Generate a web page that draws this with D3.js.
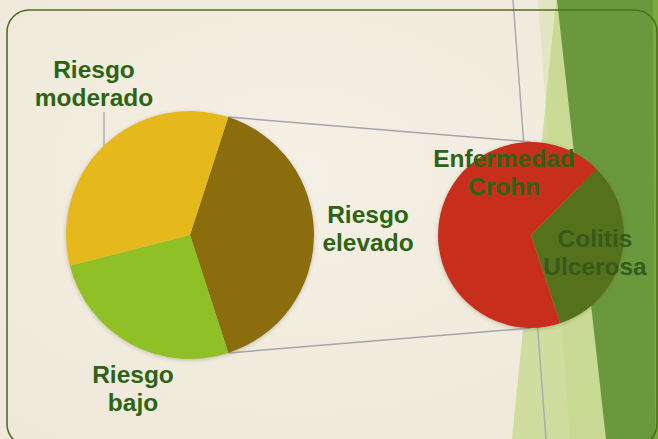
<!DOCTYPE html>
<html><head><meta charset="utf-8">
<script src="https://cdn.jsdelivr.net/npm/d3@7"></script>
<style>html,body{margin:0;padding:0;background:#F2EDE1;}svg{display:block;}</style>
</head><body><svg id="c" width="658" height="439"></svg>
<script>
// Primary pie data
const primaryCategories = ["Riesgo elevado", "Riesgo bajo", "Riesgo moderado"];
const primaryValues = [40, 26, 34];
// Secondary pie (breakdown of "Riesgo elevado")
const secondaryCategories = ["Colitis Ulcerosa", "Enfermedad Crohn"];
const secondaryValues = [13, 27];
const labelLines = {
  "Riesgo elevado": ["Riesgo", "elevado"],
  "Riesgo bajo": ["Riesgo", "bajo"],
  "Riesgo moderado": ["Riesgo", "moderado"],
  "Colitis Ulcerosa": ["Colitis", "Ulcerosa"],
  "Enfermedad Crohn": ["Enfermedad", "Crohn"]
};

const W = 658, H = 439;
const svg = d3.select("#c");
const defs = svg.append("defs");
const sh = defs.append("filter").attr("id","sh").attr("x","-20%").attr("y","-20%").attr("width","140%").attr("height","140%");
sh.append("feDropShadow").attr("dx",0).attr("dy",1).attr("stdDeviation",2.2).attr("flood-color","#6b5a3a").attr("flood-opacity",0.35);
const bgGrad = defs.append("radialGradient").attr("id","bgg").attr("cx","45%").attr("cy","40%").attr("r","75%");
bgGrad.append("stop").attr("offset","0%").attr("stop-color","#F5F0E5");
bgGrad.append("stop").attr("offset","100%").attr("stop-color","#EFE8D9");

// background
svg.append("rect").attr("width",W).attr("height",H).attr("fill","url(#bgg)");

// decorative theme shapes on right
const deco = svg.append("g");
deco.append("path").attr("d","M538,0 L658,0 L658,439 L570,439 Z").attr("fill","rgb(180,210,110)").attr("opacity",0.22);
deco.append("path").attr("d","M556,0 L658,0 L658,439 L512,439 Z").attr("fill","rgb(180,210,110)").attr("opacity",0.55);
deco.append("path").attr("d","M557,0 L658,0 L658,439 L606,439 Z").attr("fill","#6A983D");
deco.append("path").attr("d","M653,0 L658,0 L658,439 L655,439 Z").attr("fill","#7FAE40").attr("opacity",0.8);
deco.append("line").attr("x1",513).attr("y1",0).attr("x2",546).attr("y2",439).attr("stroke","#A9AAB2").attr("stroke-width",1.5);

// geometry
const c1 = {x:190, y:235, r:124};
const c2 = {x:531, y:235, r:93};
const colors1 = d3.scaleOrdinal().domain(primaryCategories).range(["#8B6D0F","#8FC126","#E5B81F"]);
const colors2 = d3.scaleOrdinal().domain(secondaryCategories).range(["#56711A","#C72E1A"]);

const total1 = d3.sum(primaryValues);
const otherSpan = primaryValues[0] / total1 * 2 * Math.PI;
const pie1 = d3.pie().sort(null).value(d => d.v).startAngle(Math.PI/2 - otherSpan/2).endAngle(Math.PI/2 - otherSpan/2 + 2*Math.PI);
const rot2 = 44.7 * Math.PI / 180;
const pie2 = d3.pie().sort(null).value(d => d.v).startAngle(rot2).endAngle(rot2 + 2*Math.PI);
const arc1 = d3.arc().innerRadius(0).outerRadius(c1.r);
const arc2 = d3.arc().innerRadius(0).outerRadius(c2.r);

const d1 = pie1(primaryCategories.map((k,i)=>({k, v:primaryValues[i]})));
const d2 = pie2(secondaryCategories.map((k,i)=>({k, v:secondaryValues[i]})));

// connector lines
const other = d1[0];
const pt = (c, r, a) => [c.x + r*Math.sin(a), c.y - r*Math.cos(a)];
const pTop = pt(c1, c1.r, other.startAngle), pBot = pt(c1, c1.r, other.endAngle);
svg.append("line").attr("x1",pTop[0]).attr("y1",pTop[1]).attr("x2",c2.x).attr("y2",c2.y - c2.r).attr("stroke","#A3A4AC").attr("stroke-width",1.5);
svg.append("line").attr("x1",pBot[0]).attr("y1",pBot[1]).attr("x2",c2.x).attr("y2",c2.y + c2.r).attr("stroke","#A3A4AC").attr("stroke-width",1.5);

// leader for moderado
const lx = 104;
svg.append("line").attr("x1",lx).attr("y1",112).attr("x2",lx).attr("y2",c1.y - Math.sqrt(c1.r*c1.r - (c1.x-lx)*(c1.x-lx)))
  .attr("stroke","#A3A4AC").attr("stroke-width",1.3);

// pies
const g1 = svg.append("g").attr("transform",`translate(${c1.x},${c1.y})`).attr("filter","url(#sh)");
g1.selectAll("path").data(d1).join("path").attr("d",arc1).attr("fill",d=>colors1(d.data.k));
const g2 = svg.append("g").attr("transform",`translate(${c2.x},${c2.y})`).attr("filter","url(#sh)");
g2.selectAll("path").data(d2).join("path").attr("d",arc2).attr("fill",d=>colors2(d.data.k));

// labels (positions relative to pie centres)
const labelPos = {
  "Riesgo elevado": [c1.x + 178, c1.y - 12],
  "Riesgo bajo": [c1.x - 57, c1.y + 148],
  "Riesgo moderado": [c1.x - 96, c1.y - 157],
  "Enfermedad Crohn": [c2.x - 27, c2.y - 68],
  "Colitis Ulcerosa": [c2.x + 64, c2.y + 12]
};
const lg = svg.append("g").attr("font-family","'Liberation Sans', Arial, sans-serif").attr("font-weight","bold").attr("font-size","24.5px").attr("text-anchor","middle");
Object.keys(labelPos).forEach(k => {
  const [x,y] = labelPos[k];
  const t = lg.append("text").attr("x",x).attr("y",y).attr("fill", k==="Colitis Ulcerosa" ? "#37591A" : "#2C6414");
  labelLines[k].forEach((s,i)=> t.append("tspan").attr("x",x).attr("dy", i===0 ? 0 : 27.5).text(s));
});

// rounded border
svg.append("rect").attr("x",7).attr("y",10).attr("width",650).attr("height",436).attr("rx",22).attr("ry",22)
  .attr("fill","none").attr("stroke","#4E7019").attr("stroke-width",1.6);
</script></body></html>
